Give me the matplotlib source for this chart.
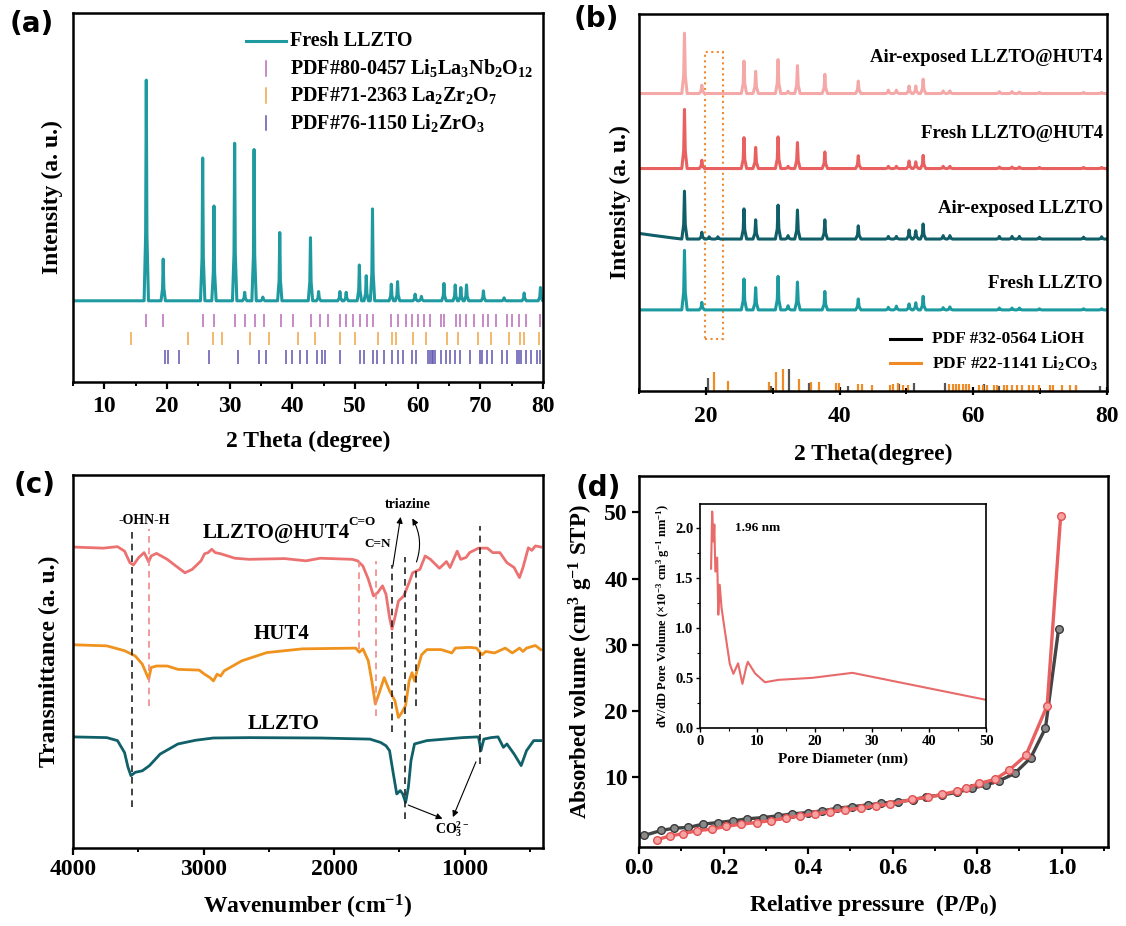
import numpy as np
import matplotlib.pyplot as plt
from matplotlib.ticker import MultipleLocator, FormatStrFormatter

plt.rcParams['font.family'] = ['Liberation Serif', 'DejaVu Serif']
plt.rcParams['font.weight'] = 'bold'
plt.rcParams['axes.labelweight'] = 'bold'
plt.rcParams['mathtext.fontset'] = 'custom'
plt.rcParams['mathtext.rm'] = 'Liberation Serif:bold'
plt.rcParams['mathtext.it'] = 'Liberation Serif:bold'
plt.rcParams['mathtext.bf'] = 'Liberation Serif:bold'
plt.rcParams['mathtext.default'] = 'rm'

# ---------------- (a) XRD of fresh LLZTO ----------------
a_peak_pos = [16.7, 19.4, 25.7, 27.5, 30.8, 32.4, 33.9, 35.3, 38.0, 42.9, 44.2, 47.6,
              48.6, 50.7, 51.8, 52.8, 55.8, 56.8, 59.6, 60.6, 64.2, 66.0, 66.9, 67.8,
              70.5, 73.8, 77.0, 79.6]
a_peak_top = [81.8, 33.3, 60.7, 47.7, 64.7, 24.3, 63.0, 23.0, 40.5, 39.1, 24.5, 24.5,
              24.3, 31.7, 28.8, 46.9, 26.5, 27.2, 23.8, 23.2, 26.7, 26.3, 25.6, 26.3,
              24.7, 22.8, 24.1, 25.6]
a_base = 22.0

pdf_lln = [16.67, 19.41, 25.73, 27.55, 30.91, 32.45, 33.99, 35.47, 38.26, 40.14, 43.04,
           44.41, 45.72, 47.60, 48.56, 49.70, 50.84, 51.98, 52.95, 55.80, 56.82, 58.07,
           59.10, 60.07, 61.04, 61.95, 63.66, 64.22, 66.05, 66.79, 67.76, 69.07, 70.49,
           71.18, 72.48, 74.19, 75.05, 76.18, 77.32, 79.60]
pdf_lzo = [14.23, 23.34, 27.38, 28.75, 33.19, 36.32, 40.99, 43.55, 47.60, 50.05, 53.69,
           55.85, 56.54, 59.27, 61.38, 64.62, 66.50, 69.63, 71.63, 74.59, 76.35, 77.04,
           79.43]
pdf_lzr = [19.64, 20.21, 21.97, 26.64, 31.37, 34.73, 35.75, 39.00, 39.91, 41.16, 42.41,
           44.01, 44.75, 45.15, 47.60, 50.84, 51.52, 52.83, 53.57, 54.66, 55.97, 56.82,
           57.68, 59.10, 59.67, 61.66, 61.95, 62.23, 62.52, 62.80, 63.66, 64.51, 65.19,
           65.93, 66.79, 68.38, 69.92, 70.20, 71.06, 71.92, 73.51, 74.19, 75.90, 76.18,
           76.47, 77.32, 78.17, 79.03, 79.60]

# ---------------- (b) XRD after air exposure ----------------
b_peak_pos = [16.8, 19.4, 20.5, 21.8, 25.7, 27.45, 30.8, 32.3, 33.7, 37.8, 42.8, 47.3,
              48.5, 50.4, 51.4, 52.5, 55.5, 56.5, 63.9, 65.8, 66.9, 69.9, 76.5, 79.2]
b_air_hut4 = [16.0, 2.2, 0, 0, 8.6, 5.9, 9.0, 0.6, 7.4, 5.1, 3.3, 0.9, 0.9, 2.0, 2.0, 3.8,
              0.7, 0.7, 0.5, 0.5, 0.4, 0.3, 0.3, 0.3]
b_fresh_hut4 = [15.7, 2.2, 0, 0, 8.2, 5.6, 8.4, 0.6, 6.9, 4.4, 3.4, 0.6, 0.6, 2.0, 1.8, 3.5,
                0.6, 0.6, 0.4, 0.4, 0.4, 0.3, 0.3, 0.3]
b_air_llzto = [12.7, 1.8, 0.6, 0.6, 8.0, 5.1, 9.0, 0.9, 7.7, 5.1, 3.5, 0.7, 0.7, 2.4, 2.2,
               4.0, 0.9, 0.9, 0.7, 0.7, 0.7, 0.5, 0.5, 0.6]
b_fresh_llzto = [15.8, 2.0, 0, 0, 8.2, 5.9, 8.9, 1.1, 7.4, 4.9, 2.9, 0.7, 1.0, 1.6, 1.9,
                 3.6, 0.6, 0.8, 0.5, 0.5, 0.5, 0.3, 0.3, 0.3]
b_names = ['Fresh LLZTO', 'Air-exposed LLZTO', 'Fresh LLZTO@HUT4', 'Air-exposed LLZTO@HUT4']
b_bases = [21.5, 40.3, 59.0, 78.9]
b_label_rise = [6.9, 8.2, 9.3, 9.5]
b_colors = ['#1B9BA0', '#0F5E68', '#E8605F', '#F4A9A8']

lioh_pos = [20.25, 29.8, 32.4, 35.5, 41.3, 48.9, 51.2, 55.7, 61.6, 63.9, 75.3, 79.0]
lioh_hgt = [3.5, 1.3, 5.7, 2.2, 1.3, 1.8, 2.2, 2.0, 1.8, 1.4, 1.4, 1.4]
li2co3_pos = [21.2, 23.3, 29.5, 30.5, 31.6, 34.0, 35.8, 36.9, 39.5, 39.9, 42.7, 43.4,
              44.9, 47.5, 48.0, 48.7, 49.5, 50.2, 56.4, 56.9, 57.4, 57.9, 58.4, 58.9,
              59.4, 60.9, 61.4, 62.1, 63.1, 63.6, 64.6, 65.1, 65.8, 66.6, 67.3, 68.3,
              69.0, 69.8, 71.5, 72.0, 73.3, 74.5, 75.3]
li2co3_hgt = [5.1, 2.65, 2.4, 5.0, 5.75, 3.1, 2.4, 2.4, 2.2, 2.0, 1.8, 1.8, 1.5, 1.5, 1.8,
              2.0, 1.5, 1.5, 1.8, 1.8, 1.8, 1.8, 1.8, 1.8, 1.8, 1.5, 1.5, 1.5, 1.5, 1.5,
              1.5, 1.5, 1.5, 1.5, 1.5, 1.5, 1.5, 1.5, 1.5, 1.5, 1.5, 1.5, 1.5]

# ---------------- (c) FTIR ----------------
ir_hut4c_x = [4000, 3768, 3659, 3605, 3564, 3537, 3496, 3455, 3436, 3420, 3401, 3360, 3278,
              3196, 3142, 3087, 3019, 2992, 2965, 2937, 2910, 2869, 2760, 2651, 2379, 2215,
              2106, 1861, 1820, 1779, 1738, 1698, 1665, 1629, 1602, 1575, 1556, 1534, 1507,
              1466, 1425, 1398, 1343, 1302, 1262, 1193, 1139, 1112, 1057, 1030, 989, 962,
              894, 826, 785, 730, 676, 621, 580, 553, 512, 485, 458, 417]
ir_hut4c_y = [80.7, 80.4, 80.8, 79.6, 76.5, 75.9, 77.9, 79.2, 77.9, 76.7, 78.3, 79.0, 77.4,
              75.2, 73.8, 74.7, 77.0, 78.9, 79.2, 80.1, 79.2, 78.9, 77.7, 77.4, 77.6, 77.0,
              77.7, 77.4, 77.0, 75.6, 72.1, 67.6, 68.5, 70.3, 68.0, 61.8, 58.7, 61.8, 66.2,
              67.6, 71.2, 73.8, 74.7, 78.3, 77.4, 75.0, 76.8, 75.2, 79.6, 77.4, 77.9, 79.2,
              80.4, 80.4, 79.2, 79.2, 76.5, 75.2, 72.5, 75.2, 80.5, 79.8, 81.0, 80.7]
ir_hut4_x = [4000, 3741, 3605, 3523, 3469, 3436, 3420, 3401, 3360, 3278, 3196, 3033, 2992,
             2951, 2924, 2896, 2869, 2842, 2706, 2515, 2243, 1834, 1807, 1779, 1738, 1711,
             1684, 1657, 1616, 1575, 1534, 1507, 1480, 1452, 1425, 1403, 1384, 1365, 1330,
             1289, 1180, 1098, 1071, 962, 908, 867, 839, 771, 689, 635, 580, 553, 526, 458,
             417]
ir_hut4_y = [54.5, 54.2, 52.9, 51.5, 49.3, 46.6, 45.3, 48.4, 48.8, 48.8, 47.9, 47.7, 46.6,
             45.7, 44.8, 46.6, 46.1, 47.5, 50.2, 52.4, 53.4, 53.6, 52.5, 53.4, 50.2, 44.8,
             38.6, 41.3, 45.7, 42.1, 39.5, 35.0, 36.4, 38.2, 44.8, 47.0, 44.8, 47.5, 51.8,
             53.2, 53.2, 52.3, 53.6, 53.8, 53.6, 51.8, 52.7, 52.3, 53.6, 52.3, 53.6, 52.7,
             53.6, 54.3, 53.2]
ir_llzto_x = [4000, 3741, 3659, 3605, 3578, 3556, 3523, 3469, 3414, 3332, 3196, 3060, 2924,
              2651, 2106, 1725, 1643, 1602, 1575, 1548, 1520, 1493, 1474, 1452, 1431, 1411,
              1384, 1289, 1016, 894, 875, 853, 798, 744, 703, 676, 621, 567, 526, 471, 417]
ir_llzto_y = [29.8, 29.6, 28.8, 25.6, 21.6, 19.4, 20.3, 20.7, 22.1, 25.2, 27.9, 28.9, 29.5,
              29.6, 29.5, 29.2, 28.3, 27.4, 26.1, 20.3, 14.5, 15.4, 14.5, 12.2, 16.3, 23.4,
              27.9, 28.8, 29.6, 29.8, 26.1, 29.2, 29.6, 29.8, 27.0, 27.9, 25.2, 22.1, 26.1,
              28.8, 28.8]
ir_guides_x = [3550, 3420, 1807, 1676, 1553, 1458, 1376, 880]
ir_guides_lo = [11.0, 38.1, 53.3, 35.4, 31.0, 7.8, 38.1, 22.5]
ir_guides_hi = [85.4, 85.4, 78.3, 77.0, 76.0, 77.9, 74.7, 86.3]
ir_guides_col = ['#222222', '#F08A8A', '#F08A8A', '#F08A8A', '#222222', '#222222',
                 '#222222', '#222222']

# ---------------- (d) N2 isotherms ----------------
iso_black_p = [0.012, 0.053, 0.084, 0.117, 0.151, 0.187, 0.222, 0.256, 0.294, 0.328, 0.363,
               0.399, 0.433, 0.469, 0.505, 0.541, 0.573, 0.612, 0.648, 0.680, 0.717, 0.753,
               0.787, 0.821, 0.851, 0.889, 0.927, 0.962, 0.993]
iso_black_v = [1.25, 2.0, 2.35, 2.45, 2.95, 3.2, 3.45, 3.75, 3.95, 4.2, 4.5, 4.7, 4.95,
               5.35, 5.6, 5.85, 6.1, 6.35, 6.6, 7.1, 7.35, 7.75, 8.35, 8.85, 9.45, 10.6,
               12.95, 17.45, 32.35]
iso_red_p = [0.043, 0.074, 0.104, 0.137, 0.172, 0.206, 0.241, 0.279, 0.313, 0.347, 0.381,
             0.416, 0.452, 0.488, 0.525, 0.561, 0.595, 0.646, 0.683, 0.718, 0.753, 0.774,
             0.805, 0.842, 0.876, 0.916, 0.966, 0.998]
iso_red_v = [0.6, 1.2, 1.5, 1.95, 2.2, 2.6, 2.95, 3.2, 3.5, 3.85, 4.2, 4.45, 4.85, 5.1,
             5.35, 5.75, 5.95, 6.7, 7.0, 7.45, 7.95, 8.35, 9.1, 9.7, 11.1, 13.35, 20.85,
             49.5]
psd_d = [1.89, 2.08, 2.33, 2.46, 2.64, 2.96, 3.15, 3.40, 3.72, 4.22, 5.16, 5.79, 6.61, 7.37,
         8.0, 8.31, 9.57, 11.3, 13.7, 19.6, 26.6, 50.0]
psd_v = [1.59, 2.16, 1.86, 2.03, 1.56, 1.70, 1.13, 1.43, 1.20, 1.00, 0.64, 0.54, 0.645,
         0.44, 0.60, 0.66, 0.545, 0.456, 0.48, 0.50, 0.55, 0.28]


def peak_trace(pos, hgt, base, x0, x1, half, lead=None):
    xs, ys = [x0], [base]
    if lead:
        xs, ys = [p[0] for p in lead], [p[1] for p in lead]
    for p, h in sorted(zip(pos, hgt)):
        if h <= 0:
            continue
        xs += [p - half, p - 0.3 * half, p, p + 0.3 * half, p + half]
        ys += [base, base + 0.3 * h, base + h, base + 0.3 * h, base]
    xs.append(x1)
    ys.append(base)
    return xs, ys


def frame(ax, lw=1.8):
    for s in ax.spines.values():
        s.set_linewidth(lw)


fig = plt.figure(figsize=(11.26, 9.26), dpi=100)
TL = 17     # tick label size
AL = 17     # axis label size

# ---- panel (a)
axa = fig.add_axes([0.0648, 0.5875, 0.4174, 0.3985])
xs, ys = peak_trace(a_peak_pos, [t - a_base for t in a_peak_top], a_base, 5, 80, 0.35)
axa.plot(xs, ys, color='#1F9AA0', lw=2.2)
axa.vlines(pdf_lln, 14.8, 18.4, color='#B86BB8', lw=1.1)
axa.vlines(pdf_lzo, 9.9, 13.5, color='#F0A442', lw=1.1)
axa.vlines(pdf_lzr, 4.9, 8.8, color='#5E55AE', lw=1.1)
axa.set_xlim(5, 80)
axa.set_ylim(0, 100)
axa.set_yticks([])
axa.xaxis.set_major_locator(MultipleLocator(10))
axa.xaxis.set_minor_locator(MultipleLocator(5))
axa.tick_params(axis='x', which='major', direction='out', length=5, width=1.6,
                labelsize=TL, pad=5)
axa.tick_params(axis='x', which='minor', direction='out', length=3, width=1.4)
axa.set_xlabel('2 Theta (degree)', fontsize=AL, labelpad=10)
axa.set_ylabel('Intensity (a. u.)', fontsize=AL, labelpad=7)
frame(axa)
# legend drawn in axes coordinates
leg_y = [0.925, 0.850, 0.777, 0.702]
axa.plot([0.368, 0.453], [leg_y[0]] * 2, color='#1F9AA0', lw=2.2, transform=axa.transAxes)
for yy, c in zip(leg_y[1:], ['#B86BB8', '#F0A442', '#5E55AE']):
    axa.plot([0.410, 0.410], [yy - 0.02, yy + 0.02], color=c, lw=1.1, transform=axa.transAxes)
leg_txt = ['Fresh LLZTO', 'PDF#80-0457 Li$_5$La$_3$Nb$_2$O$_{12}$',
           'PDF#71-2363 La$_2$Zr$_2$O$_7$', 'PDF#76-1150 Li$_2$ZrO$_3$']
for yy, t in zip(leg_y, leg_txt):
    axa.text(0.462, yy, t, transform=axa.transAxes, fontsize=14.5, va='center', ha='left')

# ---- panel (b)
axb = fig.add_axes([0.5675, 0.5778, 0.4156, 0.4071])
b_sets = [b_fresh_llzto, b_air_llzto, b_fresh_hut4, b_air_hut4]
for name, hgt, base, rise, col in zip(b_names, b_sets, b_bases, b_label_rise, b_colors):
    lead = None
    if name == 'Air-exposed LLZTO':
        lead = [(10, base + 1.5), (12, base + 1.0), (15, base + 0.3)]
    xs, ys = peak_trace(b_peak_pos, hgt, base, 10, 80, 0.4, lead)
    axb.plot(xs, ys, color=col, lw=2.2)
    axb.text(79.4, base + rise, name, ha='right', va='center', fontsize=13.5)
axb.vlines(lioh_pos, 0, lioh_hgt, color='#555555', lw=1.6)
axb.vlines(li2co3_pos, 0, li2co3_hgt, color='#F08A24', lw=1.6)
axb.add_patch(plt.Rectangle((19.8, 13.7), 2.7, 76.3, fill=False, ec='#F08A30', ls=':', lw=1.5))
axb.plot([0.537, 0.603], [0.139, 0.139], color='black', lw=2.2, transform=axb.transAxes)
axb.plot([0.537, 0.603], [0.073, 0.073], color='#F08A24', lw=2.2, transform=axb.transAxes)
axb.text(0.626, 0.139, 'PDF #32-0564 LiOH', transform=axb.transAxes, fontsize=12.5,
         va='center')
axb.text(0.626, 0.073, 'PDF #22-1141 Li$_2$CO$_3$', transform=axb.transAxes, fontsize=12.5,
         va='center')
axb.set_xlim(10, 80)
axb.set_ylim(0, 100)
axb.set_yticks([])
axb.xaxis.set_major_locator(MultipleLocator(20))
axb.xaxis.set_minor_locator(MultipleLocator(10))
axb.tick_params(axis='x', which='major', direction='inout', length=6, width=1.6,
                labelsize=TL, pad=8)
axb.tick_params(axis='x', which='minor', direction='inout', length=4, width=1.4)
axb.set_xlabel('2 Theta(degree)', fontsize=AL, labelpad=12)
axb.set_ylabel('Intensity (a. u.)', fontsize=AL, labelpad=6)
frame(axb)

# ---- panel (c)
axc = fig.add_axes([0.0648, 0.0842, 0.4174, 0.4028])
axc.plot(ir_hut4c_x, ir_hut4c_y, color='#EC7272', lw=2.0)
axc.plot(ir_hut4_x, ir_hut4_y, color='#F0921E', lw=2.0)
axc.plot(ir_llzto_x, ir_llzto_y, color='#10606A', lw=2.0)
for gx, lo, hi, gc in zip(ir_guides_x, ir_guides_lo, ir_guides_hi, ir_guides_col):
    axc.plot([gx, gx], [lo, hi], color=gc, ls=(0, (4, 3)), lw=1.2)
axc.text(2447, 84.5, 'LLZTO@HUT4', fontsize=15, ha='center', va='center')
axc.text(2406, 57.5, 'HUT4', fontsize=15, ha='center', va='center')
axc.text(2384, 33.2, 'LLZTO', fontsize=15, ha='center', va='center')
axc.text(3455, 87.7, '-OHN-H', fontsize=10, ha='center', va='center')
axc.text(1785, 87.3, 'C=O', fontsize=9.5, ha='center', va='center')
axc.text(1665, 81.4, 'C=N', fontsize=9.5, ha='center', va='center')
axc.text(1439, 92.2, 'triazine', fontsize=10, ha='center', va='center')
axc.text(1093, 5.0, 'CO$_3^{2-}$', fontsize=10, ha='center', va='center')
arr = dict(arrowstyle='-|>', color='black', lw=0.8, mutation_scale=9)
axc.annotate('', xy=(1487, 89.5), xytext=(1553, 74.8), arrowprops=arr)
axc.annotate('', xy=(1412, 89.0), xytext=(1376, 76.0),
             arrowprops=dict(arr, connectionstyle='arc3,rad=0.25'))
axc.annotate('', xy=(1150, 7.6), xytext=(1452, 11.8), arrowprops=arr)
axc.annotate('', xy=(1098, 7.6), xytext=(905, 23.8), arrowprops=arr)
axc.set_xlim(4000, 400)
axc.set_ylim(0, 100)
axc.set_yticks([])
axc.xaxis.set_major_locator(MultipleLocator(1000))
axc.xaxis.set_minor_locator(MultipleLocator(500))
axc.tick_params(axis='x', which='major', direction='out', length=5, width=1.6,
                labelsize=TL, pad=3)
axc.tick_params(axis='x', which='minor', direction='out', length=3, width=1.4)
axc.set_xlabel('Wavenumber (cm$^{-1}$)', fontsize=AL, labelpad=9)
axc.set_ylabel('Transmittance (a. u.)', fontsize=AL, labelpad=9)
frame(axc)

# ---- panel (d)
axd = fig.add_axes([0.5675, 0.0853, 0.4165, 0.4006])
axd.plot(iso_black_p, iso_black_v, color='#444444', lw=2.4, marker='o', ms=5.5,
         mfc='#8A8A8A', mec='#3A3A3A', mew=1.0)
axd.plot(iso_red_p, iso_red_v, color='#E8605F', lw=2.4, marker='o', ms=5.5,
         mfc='#F5A3A3', mec='#E35050', mew=1.0)
axd.set_xlim(0, 1.11)
axd.set_ylim(-0.5, 55.5)
axd.set_yticks([10, 20, 30, 40, 50])
axd.xaxis.set_major_locator(MultipleLocator(0.2))
axd.xaxis.set_minor_locator(MultipleLocator(0.1))
axd.xaxis.set_major_formatter(FormatStrFormatter('%.1f'))
axd.tick_params(which='major', direction='out', length=5, width=1.6, labelsize=TL, pad=3)
axd.tick_params(which='minor', direction='out', length=3, width=1.4)
axd.set_xlabel('Relative pressure  (P/P$_0$)', fontsize=AL, labelpad=9)
axd.set_ylabel('Absorbed volume (cm$^3$ g$^{-1}$ STP)', fontsize=16.5, labelpad=7)
frame(axd)

ins = axd.inset_axes([0.1306, 0.321, 0.61, 0.605])
ins.plot(psd_d, psd_v, color='#E86A6A', lw=1.5)
ins.text(6.0, 2.0, '1.96 nm', fontsize=9.5, va='center')
ins.set_xlim(0, 50)
ins.set_ylim(0, 2.24)
ins.xaxis.set_major_locator(MultipleLocator(10))
ins.xaxis.set_minor_locator(MultipleLocator(5))
ins.yaxis.set_major_locator(MultipleLocator(0.5))
ins.yaxis.set_minor_locator(MultipleLocator(0.25))
ins.yaxis.set_major_formatter(FormatStrFormatter('%.1f'))
ins.tick_params(which='major', direction='out', length=3, width=1.0, labelsize=10.5, pad=2)
ins.tick_params(which='minor', direction='out', length=2, width=0.8)
ins.set_xlabel('Pore Diameter (nm)', fontsize=11, labelpad=3)
ins.set_ylabel('dV/dD Pore Volume (×10$^{-3}$ cm$^3$ g$^{-1}$ nm$^{-1}$)', fontsize=9,
               labelpad=2)
frame(ins, 1.2)

# panel letters
for lab, x, y in [('(a)', 0.0284, 0.974), ('(b)', 0.530, 0.979),
                  ('(c)', 0.031, 0.476), ('(d)', 0.531, 0.473)]:
    fig.text(x, y, lab, fontsize=20, fontweight='bold', family='DejaVu Sans',
             ha='center', va='center')

fig.savefig('out.png', dpi=100)
